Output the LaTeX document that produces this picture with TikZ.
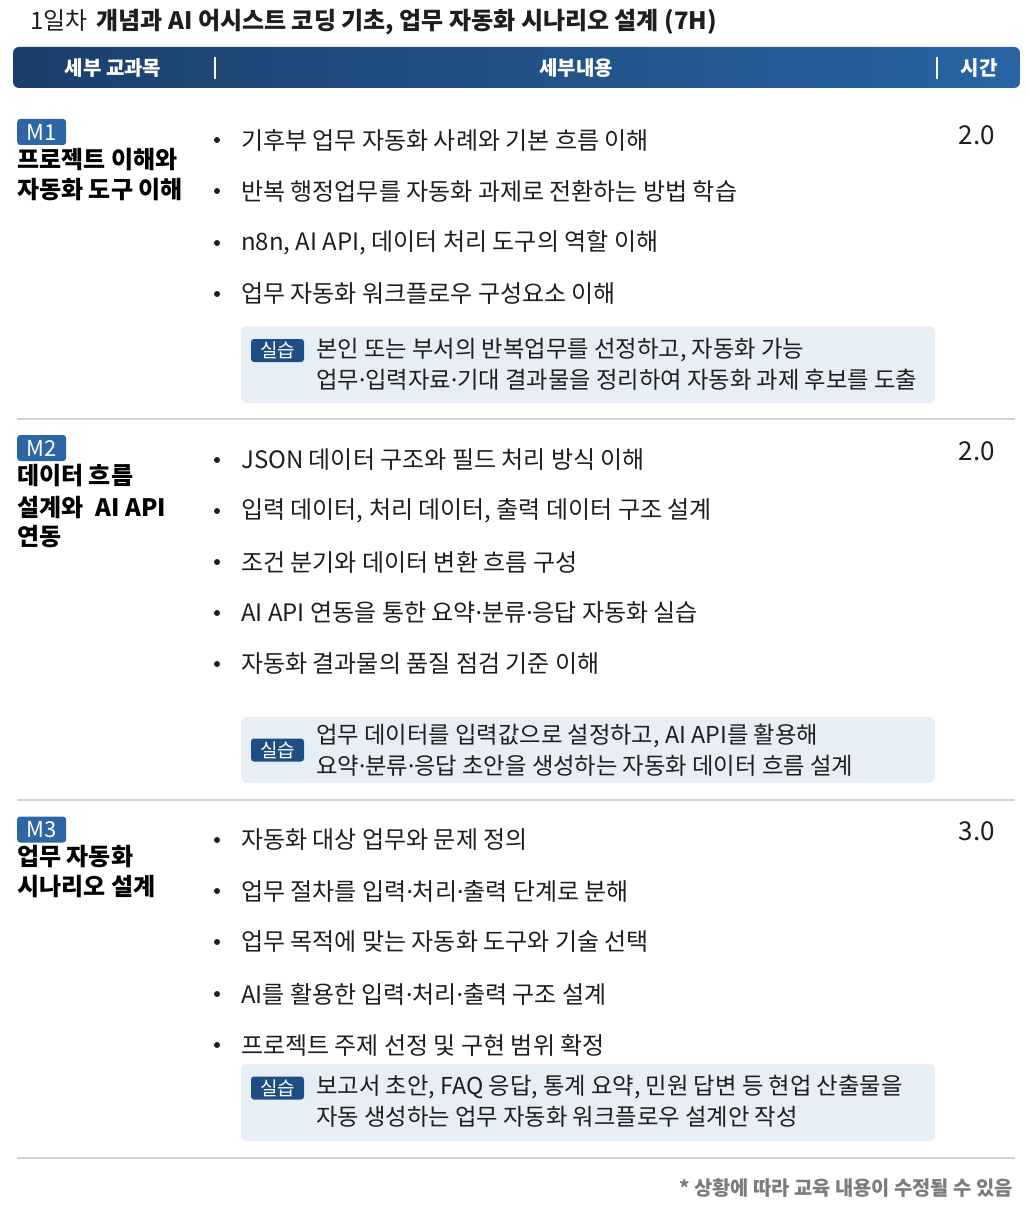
\documentclass[tikz,border=0pt]{standalone}
\usepackage{fontspec}
\setmainfont{Noto Sans CJK KR}
\newfontfamily\latinfont{Noto Sans}
\newcommand\mdot{{\latinfont ·}}

\definecolor{headL}{HTML}{1B3F6B}
\definecolor{headR}{HTML}{2864A4}
\definecolor{mblue}{HTML}{2C66A5}
\definecolor{pblue}{HTML}{1F4E85}
\definecolor{boxfill}{HTML}{E8EEF5}
\definecolor{ink}{HTML}{1E1E1E}
\definecolor{rule}{HTML}{D2D2D2}
\definecolor{note}{HTML}{7C7C7C}

\tikzset{
  item/.style={anchor=west, inner sep=0pt, text=ink, font=\fontsize{24}{28}\selectfont},
  ptext/.style={anchor=west, inner sep=0pt, text=ink, font=\fontsize{23.3}{28}\selectfont},
  mtitle/.style={anchor=west, inner sep=0pt, text=black, font=\bfseries\fontsize{24}{28}\selectfont},
  mbadge/.style={anchor=west, fill=mblue, text=white, rounded corners=3, inner sep=0pt,
    minimum width=49pt, minimum height=26pt, font=\fontsize{22}{24}\selectfont},
  pbadge/.style={fill=pblue, text=white, rounded corners=3, inner sep=0pt,
    minimum width=53pt, minimum height=23pt, font=\fontsize{19}{21}\selectfont},
  hours/.style={inner sep=0pt, text=ink, font=\fontsize{26}{30}\selectfont},
  head/.style={inner sep=0pt, text=white, font=\bfseries\fontsize{20}{24}\selectfont},
}

\begin{document}
\begin{tikzpicture}[x=1pt,y=-1pt]

    \useasboundingbox (0,0) rectangle (1029,1209);

    % title and header bar
    \node[anchor=west, inner sep=0pt, text=ink, font=\fontsize{24}{28}\selectfont] (title) at (30,22)
        {1일차\hspace{9pt}\textbf{개념과 AI 어시스트 코딩 기초, 업무 자동화 시나리오 설계 (7H)}};

    \shade[left color=headL, right color=headR, rounded corners=6] (13,47) rectangle (1020,88);
    \draw[white, line width=1.3] (215,57) -- (215,79);
    \draw[white, line width=1.3] (937,57) -- (937,79);
    \node[head] (hsub) at (113,68) {세부 교과목};
    \node[head] (hcon) at (576,68) {세부내용};
    \node[head] (htime) at (979,68) {시간};

    % M1
    \node[mbadge] (m1) at (17,132) {M1};
    \node[mtitle] (m1a) at (17,160) {프로젝트 이해와};
    \node[mtitle] (m1b) at (17,190) {자동화 도구 이해};
    \node[hours] (t1) at (977,135) {2.0};

    \foreach \y/\t [count=\i] in {140/{기후부 업무 자동화 사례와 기본 흐름 이해},
                                  191/{반복 행정업무를 자동화 과제로 전환하는 방법 학습},
                                  243/{n8n, AI API, 데이터 처리 도구의 역할 이해},
                                  294/{업무 자동화 워크플로우 구성요소 이해}} {
        \fill[ink] (217,\y) circle (3);
        \node[item] (ma\i) at (241,\y) {\t};
    }

    \fill[boxfill, rounded corners=6] (241,326) rectangle (935,403);
    \node[pbadge] (p1) at (277.5,350.5) {실습};
    \node[ptext] (p1a) at (316,350) {본인 또는 부서의 반복업무를 선정하고, 자동화 가능};
    \node[ptext] (p1b) at (316,380) {업무\mdot 입력자료\mdot 기대 결과물을 정리하여 자동화 과제 후보를 도출};

    \draw[rule, line width=1.3] (17,419) -- (1015,419);

    % M2
    \node[mbadge] (m2) at (17,448) {M2};
    \node[mtitle] (m2a) at (17,476) {데이터 흐름};
    \node[mtitle] (m2b) at (17,507) {설계와\hspace{12pt}AI API};
    \node[mtitle] (m2c) at (17,537) {연동};
    \node[hours] (t2) at (977,451) {2.0};

    \foreach \y/\t [count=\i] in {460/{JSON 데이터 구조와 필드 처리 방식 이해},
                                  511/{입력 데이터, 처리 데이터, 출력 데이터 구조 설계},
                                  562/{조건 분기와 데이터 변환 흐름 구성},
                                  613/{AI API 연동을 통한 요약\mdot 분류\mdot 응답 자동화 실습},
                                  664/{자동화 결과물의 품질 점검 기준 이해}} {
        \fill[ink] (217,\y) circle (3);
        \node[item] (mb\i) at (241,\y) {\t};
    }

    \fill[boxfill, rounded corners=6] (241,717) rectangle (935,783);
    \node[pbadge] (p2) at (277.5,750) {실습};
    \node[ptext] (p2a) at (316,736) {업무 데이터를 입력값으로 설정하고, AI API를 활용해};
    \node[ptext] (p2b) at (316,766) {요약\mdot 분류\mdot 응답 초안을 생성하는 자동화 데이터 흐름 설계};

    \draw[rule, line width=1.3] (17,800) -- (1015,800);

    % M3
    \node[mbadge] (m3) at (17,829.5) {M3};
    \node[mtitle] (m3a) at (17,857) {업무 자동화};
    \node[mtitle] (m3b) at (17,887) {시나리오 설계};
    \node[hours] (t3) at (977,831) {3.0};

    \foreach \y/\t [count=\i] in {840/{자동화 대상 업무와 문제 정의},
                                  891/{업무 절차를 입력\mdot 처리\mdot 출력 단계로 분해},
                                  942/{업무 목적에 맞는 자동화 도구와 기술 선택},
                                  994/{AI를 활용한 입력\mdot 처리\mdot 출력 구조 설계},
                                  1045/{프로젝트 주제 선정 및 구현 범위 확정}} {
        \fill[ink] (217,\y) circle (3);
        \node[item] (mc\i) at (241,\y) {\t};
    }

    \fill[boxfill, rounded corners=6] (241,1064) rectangle (935,1141);
    \node[pbadge] (p3) at (277.5,1088) {실습};
    \node[ptext] (p3a) at (316,1087) {보고서 초안, FAQ 응답, 통계 요약, 민원 답변 등 현업 산출물을};
    \node[ptext] (p3b) at (316,1117) {자동 생성하는 업무 자동화 워크플로우 설계안 작성};

    \draw[rule, line width=1.3] (17,1158) -- (1015,1158);

    \node[anchor=east, inner sep=0pt, text=note, font=\bfseries\fontsize{19.8}{24}\selectfont] (foot) at (1013,1188)
        {* 상황에 따라 교육 내용이 수정될 수 있음};

\end{tikzpicture}
\end{document}
